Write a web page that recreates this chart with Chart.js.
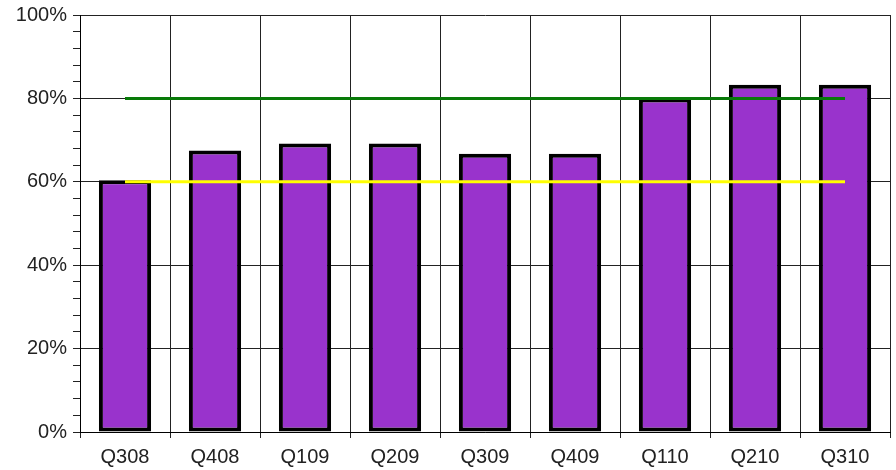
<!DOCTYPE html>
<html>
<head>
<meta charset="utf-8">
<script src="https://cdn.jsdelivr.net/npm/chart.js@4"></script>
<style>
    html, body { margin: 0; padding: 0; background: #fff; }
    #wrap { width: 896px; height: 470px; }
</style>
</head>
<body>
<div id="wrap"><canvas id="scoreChart" width="896" height="470"></canvas></div>
<script>
// Quarterly data
const quarters = ['Q308', 'Q408', 'Q109', 'Q209', 'Q309', 'Q409', 'Q110', 'Q210', 'Q310'];
const scores = [60.4, 67.5, 69.2, 69.2, 66.7, 66.7, 80, 83.3, 83.3];
const targetLine = [80, 80, 80, 80, 80, 80, 80, 80, 80];
const minimumLine = [60, 60, 60, 60, 60, 60, 60, 60, 60];

document.addEventListener('DOMContentLoaded', function() {
    const ctx = document.getElementById('scoreChart').getContext('2d');
    const labelFont = { family: 'Liberation Sans, Arial, sans-serif', size: 20 };

    new Chart(ctx, {
        data: {
            labels: quarters,
            datasets: [
                {
                    type: 'line',
                    data: targetLine,
                    borderColor: '#087a08',
                    borderWidth: 3,
                    pointRadius: 0,
                    fill: false,
                    order: 1
                },
                {
                    type: 'line',
                    data: minimumLine,
                    borderColor: '#ffff00',
                    borderWidth: 3,
                    pointRadius: 0,
                    fill: false,
                    order: 1
                },
                {
                    type: 'bar',
                    data: scores,
                    backgroundColor: '#9933cc',
                    borderColor: '#000',
                    borderWidth: 4,
                    borderSkipped: false,
                    barPercentage: 0.58,
                    categoryPercentage: 1,
                    order: 2
                }
            ]
        },
        options: {
            responsive: false,
            animation: false,
            layout: { padding: { top: 15, right: 6, left: 0, bottom: 0 } },
            plugins: {
                legend: { display: false },
                tooltip: { enabled: false }
            },
            scales: {
                x: {
                    offset: true,
                    grid: { color: '#222', offset: true, tickLength: 6, lineWidth: 1 },
                    border: { color: '#000', width: 1 },
                    ticks: { color: '#222', font: labelFont, padding: 7, maxRotation: 0 },
                    afterFit: function(scale) { scale.height = 38; }
                },
                y: {
                    min: 0,
                    max: 100,
                    grid: {
                        color: function(c) { return c.tick && c.tick.value % 20 === 0 ? '#222' : 'rgba(0,0,0,0)'; },
                        tickColor: '#222',
                        tickLength: 7
                    },
                    border: { color: '#000', width: 1 },
                    ticks: {
                        stepSize: 4,
                        autoSkip: false,
                        color: '#222',
                        font: labelFont,
                        padding: 6,
                        callback: function(value) {
                            return value % 20 === 0 ? value + '%' : '';
                        }
                    },
                    afterFit: function(scale) {
                        scale.width = 80;
                        scale.paddingTop = 0;
                        scale.paddingBottom = 0;
                    }
                }
            }
        }
    });
});
</script>
</body>
</html>
